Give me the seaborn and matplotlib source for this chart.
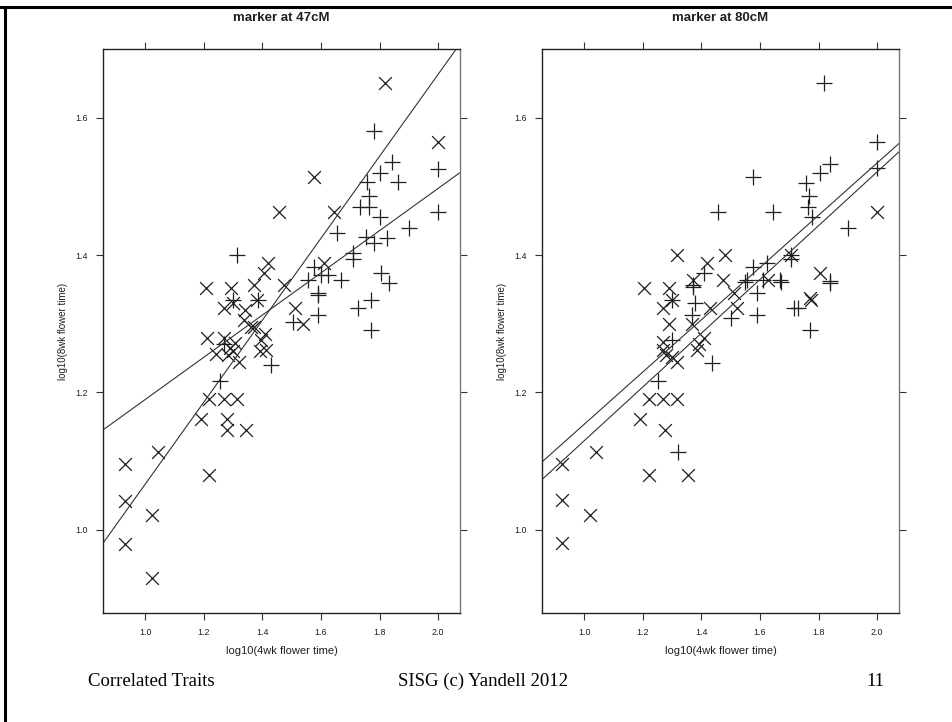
import numpy as np
import pandas as pd
import matplotlib
matplotlib.use("Agg")
import matplotlib.pyplot as plt
from matplotlib.lines import Line2D
import seaborn as sns

# ---- marker at 47cM: two genotype groups (drawn as "x" and "+") ----
x47_a = [0.93, 0.93, 0.93, 1.024, 1.024, 1.044, 1.218, 1.19, 1.28, 1.28, 1.345,
         1.218, 1.27, 1.314, 1.27, 1.283, 1.307, 1.32, 1.30, 1.338, 1.372, 1.396,
         1.413, 1.39, 1.27, 1.208, 1.293, 1.372, 1.474, 1.51, 1.54, 1.42, 1.406,
         1.61, 1.82, 2.0, 1.577, 1.457, 1.645, 1.30, 1.38, 1.36, 1.41, 1.29, 1.24,
         1.21, 1.34]
y47_a = [1.096, 1.042, 0.980, 1.022, 0.930, 1.114, 1.080, 1.162, 1.162, 1.146, 1.146,
         1.191, 1.191, 1.191, 1.280, 1.255, 1.272, 1.245, 1.260, 1.306, 1.296, 1.277,
         1.262, 1.260, 1.323, 1.352, 1.352, 1.357, 1.357, 1.323, 1.300, 1.389, 1.374,
         1.389, 1.651, 1.564, 1.513, 1.462, 1.462, 1.330, 1.335, 1.295, 1.285, 1.265, 1.256,
         1.280, 1.320]
x47_b = [1.256, 1.27, 1.43, 1.386, 1.30, 1.505, 1.59, 1.59, 1.727, 1.771, 1.771,
         1.833, 1.78, 1.843, 1.80, 1.758, 1.863, 2.0, 1.764, 1.734, 1.764, 1.80,
         2.0, 1.90, 1.655, 1.754, 1.78, 1.826, 1.71, 1.71, 1.314, 1.577, 1.60,
         1.625, 1.67, 1.556, 1.805, 1.59]
y47_b = [1.217, 1.270, 1.240, 1.335, 1.335, 1.303, 1.342, 1.313, 1.323, 1.335, 1.291,
         1.360, 1.580, 1.535, 1.519, 1.506, 1.506, 1.526, 1.486, 1.470, 1.470, 1.456,
         1.462, 1.440, 1.432, 1.427, 1.418, 1.425, 1.403, 1.395, 1.400, 1.383, 1.371,
         1.371, 1.364, 1.364, 1.374, 1.345]

# ---- marker at 80cM ----
x80_a = [0.925, 0.925, 0.925, 1.02, 1.04, 1.22, 1.353, 1.19, 1.277, 1.22, 1.267,
         1.315, 1.205, 1.29, 1.267, 1.30, 1.428, 1.52, 1.267, 1.267, 1.30, 1.318,
         1.366, 1.39, 1.41, 1.384, 1.51, 1.774, 2.0, 1.705, 1.805, 1.315, 1.48,
         1.418, 1.37, 1.473, 1.627, 1.77, 1.28, 1.29]
y80_a = [1.096, 1.044, 0.981, 1.022, 1.114, 1.080, 1.080, 1.162, 1.146, 1.191, 1.191,
         1.191, 1.352, 1.352, 1.323, 1.335, 1.323, 1.323, 1.274, 1.262, 1.252, 1.245,
         1.300, 1.270, 1.280, 1.262, 1.345, 1.335, 1.462, 1.400, 1.374, 1.400, 1.400,
         1.389, 1.364, 1.364, 1.364, 1.338, 1.255, 1.300]
x80_b = [1.32, 1.253, 1.37, 1.377, 1.366, 1.50, 1.59, 1.59, 1.715, 1.73, 1.77,
         1.84, 1.30, 1.435, 1.548, 1.671, 2.0, 2.0, 1.84, 1.805, 1.757, 1.767,
         1.764, 1.777, 1.90, 1.575, 1.455, 1.644, 1.705, 1.705, 1.84, 1.41, 1.37,
         1.575, 1.623, 1.555, 1.61, 1.668, 1.82, 1.30]
y80_b = [1.114, 1.217, 1.354, 1.330, 1.313, 1.309, 1.345, 1.313, 1.323, 1.323, 1.291,
         1.360, 1.277, 1.243, 1.361, 1.361, 1.564, 1.527, 1.533, 1.520, 1.505, 1.486,
         1.470, 1.456, 1.440, 1.513, 1.462, 1.462, 1.400, 1.395, 1.363, 1.374, 1.357,
         1.383, 1.389, 1.364, 1.364, 1.364, 1.651, 1.335]

# fitted regression lines per genotype (intercept, slope)
fit47_b0 = [0.471, 0.883]
fit47_b1 = [0.596, 0.307]
fit80_b0 = [0.774, 0.739]
fit80_b1 = [0.380, 0.391]

titles = ["marker at 47cM", "marker at 80cM"]
x_ticks = [1.0, 1.2, 1.4, 1.6, 1.8, 2.0]
y_ticks = [1.0, 1.2, 1.4, 1.6]
x_label = "log10(4wk flower time)"
y_label = "log10(8wk flower time)"
footer = ["Correlated Traits", "SISG (c) Yandell 2012", "11"]

sns.set_theme(style="white")
plt.rcParams["font.family"] = ["Liberation Sans", "DejaVu Sans"]

W, H = 952, 722
fig = plt.figure(figsize=(W / 100, H / 100), dpi=100)
fig.patch.set_facecolor("white")


def frac(x0, y0, x1, y1):
    return [x0 / W, 1 - y1 / H, (x1 - x0) / W, (y1 - y0) / H]


ink = "#1e1e1e"
panels = [
    (frac(103, 49, 460, 613), x47_a, y47_a, x47_b, y47_b, fit47_b0, fit47_b1),
    (frac(542, 49, 899, 613), x80_a, y80_a, x80_b, y80_b, fit80_b0, fit80_b1),
]

for (rect, xa, ya, xb, yb, b0, b1), title in zip(panels, titles):
    ax = fig.add_axes(rect)
    df = pd.DataFrame({
        "x4": xa + xb,
        "y8": ya + yb,
        "geno": ["A"] * len(xa) + ["B"] * len(xb),
    })
    sns.scatterplot(data=df[df.geno == "A"], x="x4", y="y8", marker="x",
                    s=85, color=ink, linewidth=0.9, ax=ax, legend=False)
    sns.scatterplot(data=df[df.geno == "B"], x="x4", y="y8", marker="+",
                    s=140, color=ink, linewidth=0.9, ax=ax, legend=False)
    for a, m in zip(b0, b1):
        ax.axline((0, a), slope=m, color="#333333", lw=0.8)

    ax.set_xlim(0.855, 2.075)
    ax.set_ylim(0.879, 1.70)
    ax.set_xticks(x_ticks)
    ax.set_yticks(y_ticks)
    ax.set_xticklabels([f"{v:.1f}" for v in x_ticks])
    ax.set_yticklabels([f"{v:.1f}" for v in y_ticks])
    ax.tick_params(direction="out", length=5, width=0.8, color="#333333",
                   top=True, right=True, bottom=True, left=True,
                   labeltop=False, labelright=False, labelsize=6.4,
                   labelcolor=ink, pad=6)
    ax.set_xlabel(x_label, fontsize=8, color=ink, labelpad=6)
    ax.set_ylabel(y_label, fontsize=7, color=ink, labelpad=5)
    for side, sp in ax.spines.items():
        sp.set_visible(True)
        sp.set_linewidth(1.0)
        sp.set_color("#222222" if side in ("left", "bottom", "top") else "#777777")
    ax.grid(False)

    # panel title, centred over the panel just under the slide frame
    bx = ax.get_position()
    fig.text(bx.x0 + bx.width / 2, 1 - 18 / H, title, ha="center", va="center",
             fontsize=9.5, fontweight="bold", color=ink)

# slide frame
fig.add_artist(Line2D([0, 1], [1 - 7 / H] * 2, color="black", lw=2.2,
                      transform=fig.transFigure))
fig.add_artist(Line2D([5 / W, 5 / W], [0, 1 - 7 / H], color="black", lw=2.2,
                      transform=fig.transFigure))

serif = ["Liberation Serif", "DejaVu Serif"]
fig.text(88 / W, 1 - 681 / H, footer[0], ha="left", va="center",
         fontsize=13.5, family=serif, color="black")
fig.text(483 / W, 1 - 681 / H, footer[1], ha="center", va="center",
         fontsize=13.5, family=serif, color="black")
fig.text(884 / W, 1 - 681 / H, footer[2], ha="right", va="center",
         fontsize=13.5, family=serif, color="black")

fig.savefig("out.png", dpi=100, facecolor="white")
